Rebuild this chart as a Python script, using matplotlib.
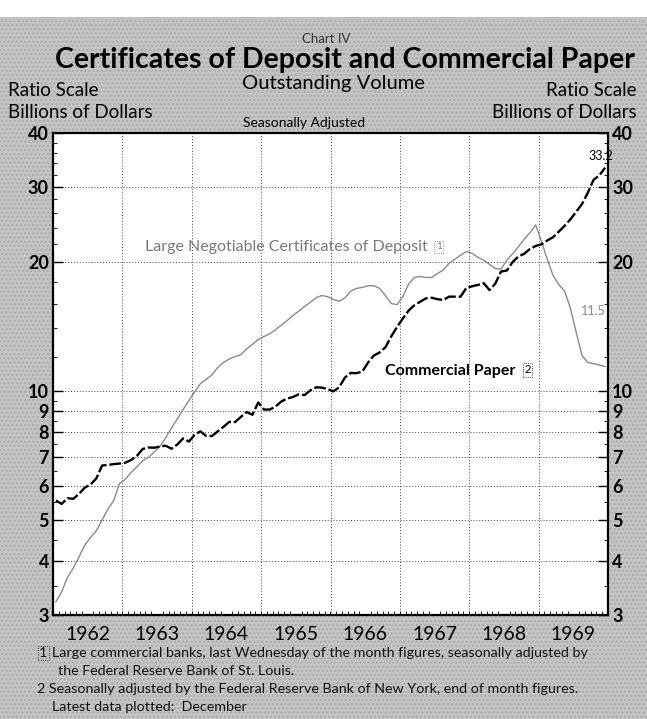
import numpy as np
import pandas as pd
import matplotlib
matplotlib.use("Agg")
import matplotlib.pyplot as plt
from matplotlib.patches import Rectangle
from matplotlib.ticker import FixedLocator, NullFormatter

# ---------------- data (billions of dollars, monthly Jan 1962 - Dec 1969) ----------------
months = pd.date_range("1962-01-01", periods=96, freq="MS")

commercial_paper = [
    5.55, 5.45, 5.62, 5.60, 5.75, 5.95, 6.05, 6.25, 6.70, 6.72, 6.75, 6.77,      # 1962
    6.80, 6.90, 7.05, 7.32, 7.38, 7.37, 7.42, 7.45, 7.33, 7.50, 7.75, 7.62,      # 1963
    7.90, 8.05, 7.85, 7.85, 8.05, 8.25, 8.47, 8.46, 8.70, 8.93, 8.80, 9.40,      # 1964
    9.05, 9.05, 9.20, 9.45, 9.60, 9.68, 9.82, 9.78, 10.03, 10.20, 10.18, 10.10,  # 1965
    9.98, 10.20, 10.75, 11.02, 11.00, 11.10, 11.65, 12.10, 12.30, 12.65, 13.40, 14.10,  # 1966
    14.75, 15.40, 15.85, 16.15, 16.45, 16.50, 16.38, 16.30, 16.60, 16.60, 16.60, 17.40,  # 1967
    17.55, 17.68, 17.85, 17.20, 17.80, 19.00, 19.10, 20.00, 20.60, 20.90, 21.45, 21.80,  # 1968
    22.00, 22.45, 22.85, 23.55, 24.30, 25.15, 26.20, 27.30, 29.00, 31.10, 31.85, 33.20,  # 1969
]

certificates_of_deposit = [
    3.22, 3.40, 3.67, 3.86, 4.10, 4.37, 4.55, 4.72, 5.00, 5.30, 5.55, 6.08,      # 1962
    6.22, 6.45, 6.65, 6.87, 7.00, 7.20, 7.42, 7.78, 8.20, 8.60, 9.05, 9.50,      # 1963
    9.95, 10.40, 10.65, 10.90, 11.35, 11.65, 11.88, 12.03, 12.15, 12.54, 12.85, 13.17,  # 1964
    13.40, 13.60, 13.90, 14.25, 14.60, 15.00, 15.35, 15.75, 16.10, 16.50, 16.70, 16.60,  # 1965
    16.35, 16.20, 16.50, 17.10, 17.35, 17.45, 17.60, 17.60, 17.35, 16.70, 16.00, 15.90,  # 1966
    16.60, 17.75, 18.40, 18.50, 18.40, 18.40, 18.80, 19.15, 19.85, 20.30, 20.75, 21.15,  # 1967
    20.95, 20.50, 20.20, 19.75, 19.30, 19.25, 20.20, 20.90, 21.70, 22.60, 23.40, 24.40,  # 1968
    22.30, 20.30, 18.60, 17.70, 17.10, 15.60, 13.70, 12.10, 11.65, 11.58, 11.50, 11.40,  # 1969
]

year_labels = ["1962", "1963", "1964", "1965", "1966", "1967", "1968", "1969"]
y_ticks = [3, 4, 5, 6, 7, 8, 9, 10, 20, 30, 40]
cp_last_label = "33.2"
cd_last_label = "11.5"

# ---------------- figure ----------------
W, H = 647, 719
fig = plt.figure(figsize=(W / 100, H / 100), dpi=100)
fig.patch.set_facecolor("white")
FONT = ["Lato", "DejaVu Sans"]

bg = Rectangle((0, 0), 1, 1 - 17 / H, transform=fig.transFigure,
               facecolor="#c4c4c4", edgecolor="#a9a9a9", hatch="....",
               linewidth=0, zorder=-10)
fig.patches.append(bg)


def fx(px):
    return px / W


def fy(py):
    return 1 - py / H


L, R, T, B = 53, 608, 133, 615
ax = fig.add_axes([fx(L), fy(B), fx(R - L), fy(T) - fy(B)])
ax.set_facecolor("white")

t = months.year + (months.month - 0.5) / 12.0

ax.plot(t, certificates_of_deposit, color="#8a8a8a", lw=1.0, zorder=3)
ax.plot(t, commercial_paper, color="black", lw=1.7,
        linestyle=(0, (5, 1.2)), zorder=4)

ax.set_yscale("log")
ax.set_ylim(3, 40)
ax.set_xlim(1962, 1970)

# grid
for v in y_ticks[1:-1]:
    ax.axhline(v, color="#444444", lw=0.7, ls=(0, (1, 2)), zorder=1)
for yr in range(1963, 1970):
    ax.axvline(yr, color="#444444", lw=0.7, ls=(0, (1, 2)), zorder=1)

# y ticks both sides
ax.yaxis.set_major_locator(FixedLocator(y_ticks))
ax.set_yticklabels([str(v) for v in y_ticks])
ax.yaxis.set_minor_locator(FixedLocator(
    [v for v in np.arange(3, 10, 0.5)] + [v for v in np.arange(10, 41, 2)]))
ax.yaxis.set_minor_formatter(NullFormatter())
ax.tick_params(axis="y", which="major", direction="in", length=7, width=1.0,
               left=True, right=True, labelleft=True, labelright=True,
               labelsize=13, pad=3)
ax.tick_params(axis="y", which="minor", direction="in", length=3, width=0.6,
               left=True, right=True)
for lab in ax.get_yticklabels():
    lab.set_family(FONT)
    lab.set_fontweight("bold")

# x: year labels centred in each year, monthly minor ticks
ax.set_xticks(np.arange(1962, 1970) + 0.5)
ax.set_xticklabels(year_labels, fontsize=14, family=FONT)
ax.tick_params(axis="x", which="major", length=0, pad=8)
ax.xaxis.set_minor_locator(FixedLocator(np.arange(1962, 1970.01, 1 / 12)))
ax.tick_params(axis="x", which="minor", direction="in", length=3, width=0.6)

for s in ax.spines.values():
    s.set_linewidth(1.6)
    s.set_color("black")

# series labels
ax.text(1967.40, 21.7, "Large Negotiable Certificates of Deposit", color="#7a7a7a",
        family=FONT, fontsize=11.5, ha="right", va="center", zorder=5)
ax.text(1967.56, 21.7, "1", color="#7a7a7a", family=FONT, fontsize=7,
        ha="center", va="center",
        bbox=dict(boxstyle="square,pad=0.15", fc="none", ec="#7a7a7a", ls=":", lw=0.6))
ax.text(1966.78, 11.15, "Commercial Paper", color="black", family=FONT,
        fontsize=11.5, fontweight="bold", ha="left", va="center", zorder=5)
ax.text(1968.84, 11.2, "2", color="black", family=FONT, fontsize=8,
        ha="center", va="center",
        bbox=dict(boxstyle="square,pad=0.15", fc="none", ec="black", ls=":", lw=0.6))
ax.text(1970.07, 34.2, cp_last_label, color="black", family=FONT, fontsize=9,
        ha="right", va="bottom", zorder=6, clip_on=False)
ax.text(1969.97, 15.4, cd_last_label, color="#8a8a8a", family=FONT, fontsize=9,
        ha="right", va="center", zorder=6)

# header texts
fig.text(fx(326), fy(39), "Chart IV", fontsize=9.5, family=FONT, color="#333333",
         ha="center", va="center")
fig.text(fx(345), fy(60), "Certificates of Deposit and Commercial Paper",
         fontsize=20.5, family=FONT, fontweight="bold", ha="center", va="center")
fig.text(fx(333), fy(83), "Outstanding Volume", fontsize=14.5, family=FONT,
         ha="center", va="center")
fig.text(fx(8), fy(90), "Ratio Scale", fontsize=13.5, family=FONT, ha="left", va="center")
fig.text(fx(8), fy(112), "Billions of Dollars", fontsize=13.5, family=FONT,
         ha="left", va="center")
fig.text(fx(637), fy(90), "Ratio Scale", fontsize=13.5, family=FONT, ha="right", va="center")
fig.text(fx(637), fy(112), "Billions of Dollars", fontsize=13.5, family=FONT,
         ha="right", va="center")
fig.text(fx(304), fy(123), "Seasonally Adjusted", fontsize=10, family=FONT,
         ha="center", va="center")

# footnotes
fn = dict(fontsize=10.3, family=FONT, ha="left", va="center", color="#111111")
fig.text(fx(39), fy(653), "1", bbox=dict(boxstyle="square,pad=0.1", fc="none",
         ec="#111111", ls=":", lw=0.6), **fn)
fig.text(fx(52), fy(653),
         "Large commercial banks, last Wednesday of the month figures, seasonally adjusted by", **fn)
fig.text(fx(58), fy(671), "the Federal Reserve Bank of St. Louis.", **fn)
fig.text(fx(37), fy(689),
         "2 Seasonally adjusted by the Federal Reserve Bank of New York, end of month figures.", **fn)
fig.text(fx(52), fy(707), "Latest data plotted:  December", **fn)

fig.savefig("out.png", dpi=100, facecolor=fig.get_facecolor())
